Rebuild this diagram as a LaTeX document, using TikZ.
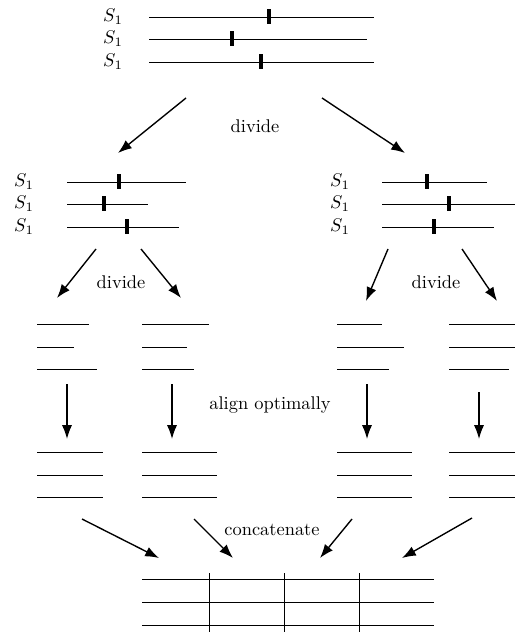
\documentclass[tikz,border=0pt]{standalone}
\usetikzlibrary{arrows.meta}
\begin{document}
\begin{tikzpicture}[x=0.543pt,y=-0.543pt,
  seq/.style={line width=0.5pt},
  tick/.style={line width=1.7pt},
  arr/.style={line width=0.75pt,-{Latex[length=7.5pt,width=5.5pt]}},
  lbl/.style={inner sep=0pt,font=\normalsize},
  every node/.style={inner sep=0pt}]
\useasboundingbox (0,0) rectangle (515,632);
% top group
\foreach \y/\e/\t in {17/374/269, 39/367/232, 62/374/261}{
  \node[lbl] at (113,\y) {$S_1$};
  \draw[seq] (149,\y) -- (\e,\y);
  \draw[tick] (\t,\y-7.5) -- (\t,\y+7.5);
}
\coordinate (t1) at (186,98); \coordinate (l1) at (118,153);
\coordinate (t2) at (322,98); \coordinate (r1) at (405,153);
\draw[arr] (t1) -- (l1);
\draw[arr] (t2) -- (r1);
\node[lbl] (div0) at (255,126) {divide};
% middle left
\foreach \y/\e/\t in {182/186/119, 204/148/104, 227/179/127}{
  \node[lbl] at (24,\y) {$S_1$};
  \draw[seq] (67,\y) -- (\e,\y);
  \draw[tick] (\t,\y-7.5) -- (\t,\y+7.5);
}
% middle right
\foreach \y/\e/\t in {182/487/427, 204/515/449, 227/494/434}{
  \node[lbl] at (340,\y) {$S_1$};
  \draw[seq] (382,\y) -- (\e,\y);
  \draw[tick] (\t,\y-7.5) -- (\t,\y+7.5);
}
% second divide arrows
\coordinate (la) at (96,249); \coordinate (lA) at (57,298);
\coordinate (lb) at (141,249); \coordinate (lB) at (181,298);
\coordinate (rc) at (388,249); \coordinate (rC) at (366,301);
\coordinate (rd) at (462,249); \coordinate (rD) at (497,301);
\draw[arr] (la) -- (lA);
\draw[arr] (lb) -- (lB);
\draw[arr] (rc) -- (rC);
\draw[arr] (rd) -- (rD);
\node[lbl] (div1) at (121,282) {divide};
\node[lbl] (div2) at (436,282) {divide};
% fragments
\foreach \y/\a/\b/\c/\d in {324/89/209/382/515, 347/74/187/404/515, 369/97/194/389/509}{
  \draw[seq] (37,\y) -- (\a,\y);
  \draw[seq] (142,\y) -- (\b,\y);
  \draw[seq] (337,\y) -- (\c,\y);
  \draw[seq] (449,\y) -- (\d,\y);
}
% align arrows
\coordinate (fa) at (67,384); \coordinate (ga) at (67,439);
\coordinate (fb) at (172,384); \coordinate (gb) at (172,439);
\coordinate (fc) at (367,384); \coordinate (gc) at (367,439);
\coordinate (fd) at (479,392); \coordinate (gd) at (479,439);
\draw[arr] (fa) -- (ga);
\draw[arr] (fb) -- (gb);
\draw[arr] (fc) -- (gc);
\draw[arr] (fd) -- (gd);
\node[lbl] (align) at (270,405) {align optimally};
% aligned groups
\foreach \y in {452,475,497}{
  \draw[seq] (37,\y) -- (103,\y);
  \draw[seq] (142,\y) -- (217,\y);
  \draw[seq] (337,\y) -- (412,\y);
  \draw[seq] (449,\y) -- (515,\y);
}
% concatenate arrows
\coordinate (c1) at (82,519); \coordinate (d1) at (159,558);
\coordinate (c2) at (194,519); \coordinate (d2) at (233,558);
\coordinate (c3) at (352,519); \coordinate (d3) at (320,558);
\coordinate (c4) at (472,518); \coordinate (d4) at (402,558);
\draw[arr] (c1) -- (d1);
\draw[arr] (c2) -- (d2);
\draw[arr] (c3) -- (d3);
\draw[arr] (c4) -- (d4);
\node[lbl] (concat) at (272,530) {concatenate};
% final table
\foreach \y in {579,602,625}{ \draw[seq] (142,\y) -- (434,\y); }
\foreach \x in {209,284,359}{ \draw[seq] (\x,573) -- (\x,632); }
\end{tikzpicture}
\end{document}
